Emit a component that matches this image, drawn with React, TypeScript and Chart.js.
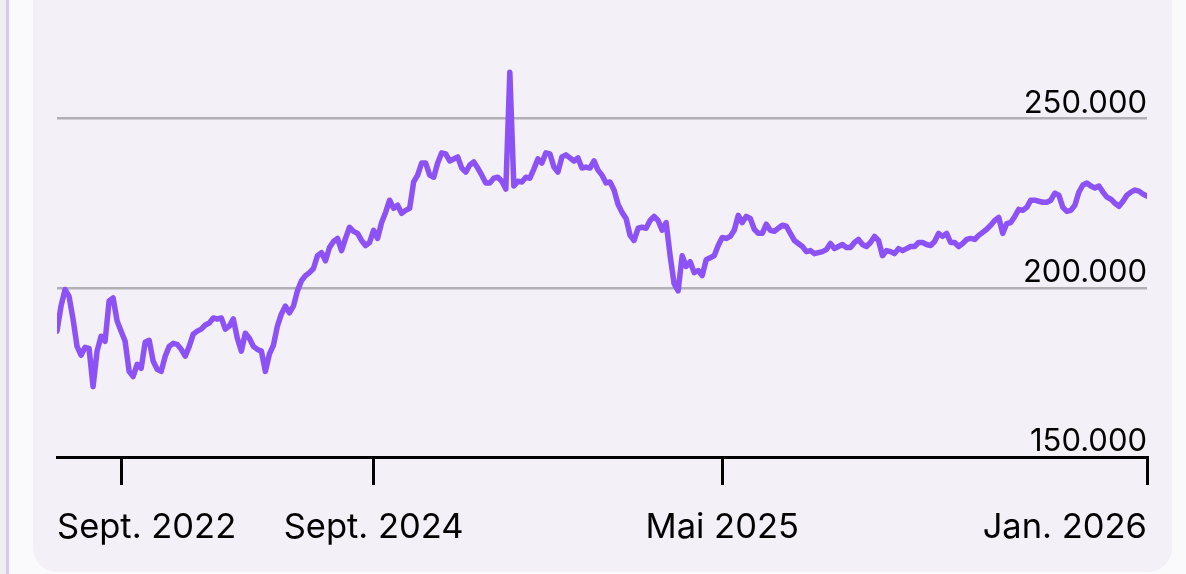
import React, { useEffect, useRef } from "react";
import { Chart, registerables } from "chart.js";

Chart.register(...registerables);

// Series values in thousands (evenly spaced samples)
const priceK: number[] = [
  187.2, 194.6, 199.5, 197.5, 190.8, 182.7, 180.1, 182.4, 182.1, 170.8,
  181.3, 185.7, 184.2, 196.1, 197.0, 190.2, 187.2, 184.2, 175.3, 173.8,
  177.4, 176.2, 183.9, 184.5, 178.3, 175.9, 175.3, 179.8, 182.7, 183.6,
  183.3, 181.8, 179.8, 182.7, 186.3, 187.2, 187.8, 189.0, 189.6, 191.1,
  190.8, 191.1, 187.8, 188.7, 190.8, 185.1, 181.3, 186.6, 185.1, 182.7,
  181.8, 181.3, 175.3, 180.4, 183.0, 188.7, 192.3, 194.6, 192.6, 194.6,
  199.1, 202.1, 203.6, 204.5, 205.7, 209.5, 210.4, 208.0, 211.9, 213.7,
  214.6, 211.0, 214.6, 217.9, 216.7, 216.1, 214.0, 212.5, 213.4, 217.0,
  214.6, 219.3, 222.3, 225.9, 223.5, 224.4, 222.0, 222.9, 223.5, 231.3,
  233.3, 236.9, 236.9, 233.3, 232.7, 236.9, 239.9, 239.6, 237.5, 238.1,
  238.7, 235.4, 234.2, 236.3, 237.2, 235.4, 233.3, 231.0, 231.0, 232.4,
  232.7, 231.5, 229.2, 263.7, 230.1, 231.5, 231.3, 232.7, 232.4, 235.1,
  238.1, 236.9, 239.9, 239.6, 235.7, 234.2, 238.7, 239.3, 238.4, 237.5,
  238.4, 235.4, 235.7, 235.4, 237.5, 234.8, 233.3, 231.0, 231.3, 228.9,
  224.7, 222.3, 220.5, 215.5, 214.0, 217.6, 217.9, 217.6, 219.9, 221.1,
  219.9, 217.0, 219.3, 209.5, 201.2, 199.1, 209.5, 206.3, 207.7, 204.5,
  205.1, 203.6, 208.3, 208.9, 209.5, 212.5, 214.9, 214.6, 215.2, 217.0,
  221.4, 219.3, 221.1, 220.5, 217.3, 216.1, 216.1, 218.8, 217.0, 216.7,
  217.6, 218.5, 218.2, 216.1, 214.0, 213.1, 212.2, 210.7, 211.0, 210.1,
  210.4, 210.7, 211.3, 213.1, 211.6, 212.2, 212.8, 211.9, 211.9, 213.4,
  214.3, 212.8, 212.2, 213.4, 215.2, 214.0, 209.5, 211.0, 210.7, 210.1,
  211.6, 211.0, 211.6, 212.2, 212.2, 213.4, 213.4, 212.8, 212.5, 213.7,
  216.1, 215.2, 216.1, 213.4, 213.4, 212.2, 213.1, 214.3, 214.6, 214.3,
  215.5, 216.4, 217.3, 218.5, 219.9, 220.8, 216.1, 219.0, 219.3, 221.1,
  223.2, 222.9, 223.8, 225.9, 225.9, 225.6, 225.3, 225.3, 225.9, 228.0,
  227.4, 223.8, 222.6, 222.9, 224.4, 228.3, 230.4, 231.0, 230.1, 229.5,
  230.1, 228.3, 226.8, 226.2, 225.0, 224.1, 225.6, 227.4, 228.3, 228.9,
  228.6, 227.7, 227.1,
];

const yTickValues = [150000, 200000, 250000];
const yTickLabels = ["150.000", "200.000", "250.000"];
const yMin = 150000;
const yMax = 270000;

const xTickIndex = [16, 79, 166, 272];
const xTickLabels = ["Sept. 2022", "Sept. 2024", "Mai 2025", "Jan. 2026"];

const FONT = "Inter, 'Noto Sans', 'DejaVu Sans', sans-serif";
const LINE_COLOR = "#8c52f5";
const GRID_COLOR = "#b2b0b5";

const labelPlugin = {
  id: "customLabels",
  afterDraw(chart: any) {
    const { ctx, chartArea, scales } = chart;
    const xs = scales.x;
    const ys = scales.y;
    ctx.save();
    ctx.fillStyle = "#000";
    ctx.textBaseline = "alphabetic";
    ctx.font = `31px ${FONT}`;
    ctx.textAlign = "right";
    yTickValues.forEach((v, i) => {
      ctx.fillText(yTickLabels[i], chartArea.right, ys.getPixelForValue(v) - 6);
    });
    ctx.font = `34.5px ${FONT}`;
    ctx.textAlign = "left";
    xTickIndex.forEach((idx, i) => {
      const w = ctx.measureText(xTickLabels[i]).width;
      let left = xs.getPixelForValue(idx) - w / 2;
      left = Math.max(chartArea.left, Math.min(chartArea.right - w, left));
      ctx.fillText(xTickLabels[i], left, chartArea.bottom + 81);
    });
    ctx.restore();
  },
};

export default function App() {
  const canvasRef = useRef<HTMLCanvasElement | null>(null);

  useEffect(() => {
    const canvas = canvasRef.current;
    if (!canvas) return;
    const labels = priceK.map((_, i) => i);
    const chart = new Chart(canvas, {
      type: "line",
      data: {
        labels,
        datasets: [
          {
            data: priceK.map((v) => v * 1000),
            borderColor: LINE_COLOR,
            borderWidth: 5.5,
            pointRadius: 0,
            tension: 0,
            borderJoinStyle: "round",
            borderCapStyle: "round",
            fill: false,
          },
        ],
      },
      options: {
        responsive: false,
        animation: false,
        devicePixelRatio: 1,
        layout: { padding: { left: 57, right: 39, top: 51, bottom: 117 } },
        plugins: { legend: { display: false }, tooltip: { enabled: false } },
        scales: {
          x: {
            type: "linear",
            min: 0,
            max: priceK.length - 1,
            afterBuildTicks: (scale: any) => {
              scale.ticks = xTickIndex.map((v) => ({ value: v }));
            },
            afterFit: (scale: any) => {
              scale.height = 0;
            },
            grid: {
              drawOnChartArea: false,
              drawTicks: true,
              tickLength: 28,
              tickColor: "#000",
              tickWidth: 3,
              lineWidth: 3,
            },
            border: { display: true, color: "#000", width: 3 },
            ticks: { display: false },
          },
          y: {
            position: "right",
            min: yMin,
            max: yMax,
            afterBuildTicks: (scale: any) => {
              scale.ticks = yTickValues.map((v) => ({ value: v }));
            },
            afterFit: (scale: any) => {
              scale.width = 0;
            },
            grid: {
              drawTicks: false,
              lineWidth: 2.5,
              color: (c: any) => (c.tick && c.tick.value === yMin ? "rgba(0,0,0,0)" : GRID_COLOR),
            },
            border: { display: false },
            ticks: { display: false },
          },
        },
      },
      plugins: [labelPlugin],
    });
    return () => chart.destroy();
  }, []);

  return (
    <div
      style={{
        position: "fixed",
        left: 0,
        top: 0,
        width: 1186,
        height: 574,
        background: "#faf9fb",
        overflow: "hidden",
      }}
    >
      <div style={{ position: "absolute", left: 0, top: 0, width: 6, height: 574, background: "#efeef1" }} />
      <div style={{ position: "absolute", left: 6, top: 0, width: 3, height: 574, background: "#d7c8f2" }} />
      <div
        style={{
          position: "absolute",
          left: 33,
          top: -40,
          width: 1139,
          height: 612,
          borderRadius: 24,
          background: "#f3f0f8",
        }}
      />
      <canvas
        ref={canvasRef}
        width={1186}
        height={574}
        style={{ position: "absolute", left: 0, top: 0, width: 1186, height: 574 }}
      />
    </div>
  );
}
